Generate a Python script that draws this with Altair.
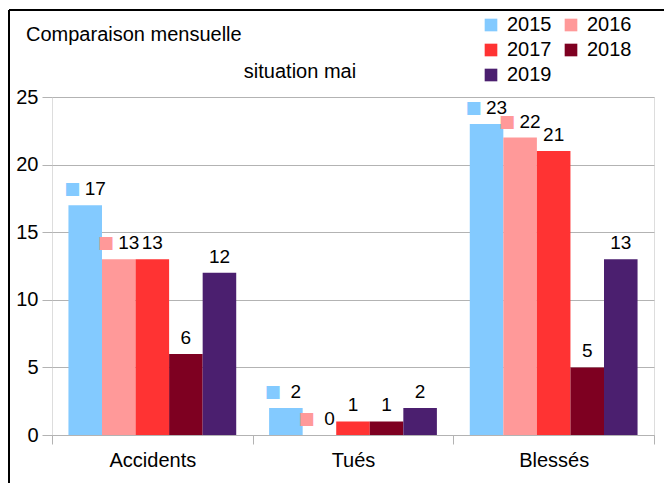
import altair as alt
import pandas as pd

categories = ["Accidents", "Tués", "Blessés"]
years = ["2015", "2016", "2017", "2018", "2019"]
v2015 = [17, 2, 23]
v2016 = [13, 0, 22]
v2017 = [13, 1, 21]
v2018 = [6, 1, 5]
v2019 = [12, 2, 13]
colors = ["#83CAFF", "#FF9999", "#FF3333", "#7E0021", "#4B1F6F"]

series = [v2015, v2016, v2017, v2018, v2019]
rows = []
for y, vals in zip(years, series):
    for c, v in zip(categories, vals):
        rows.append({"cat": c, "year": y, "value": v})
df = pd.DataFrame(rows)

# legend is filled column by column: order the colour domain so rows read 2015 2016 / 2017 2018 / 2019
legend_order = [0, 2, 4, 1, 3]
legend_years = [years[i] for i in legend_order]
legend_colors = [colors[i] for i in legend_order]

FONT = "Liberation Sans"

x_enc = alt.X("cat:N", sort=categories, title=None,
              scale=alt.Scale(paddingInner=0, paddingOuter=0),
              axis=alt.Axis(labelAngle=0, labelFontSize=20, labelFont=FONT, labelColor="#000000",
                            tickBand="extent", tickSize=9, tickColor="#b3b3b3", domainColor="#b3b3b3",
                            labelPadding=6, grid=False))
xo_enc = alt.XOffset("year:N", sort=years, scale=alt.Scale(paddingInner=0, paddingOuter=0.49))
y_enc = alt.Y("value:Q", title=None,
              scale=alt.Scale(domain=[0, 25], nice=False),
              axis=alt.Axis(values=[0, 5, 10, 15, 20, 25], labelFontSize=20, labelFont=FONT,
                            labelColor="#000000", tickSize=10, tickColor="#b3b3b3",
                            domain=False, gridColor="#b3b3b3", labelPadding=4))
color_enc = alt.Color("year:N",
                      scale=alt.Scale(domain=legend_years, range=legend_colors),
                      legend=alt.Legend(title=None, orient="none", legendX=429, legendY=-82,
                                        columns=2, symbolType="square", symbolSize=160,
                                        symbolStrokeWidth=0, labelFontSize=20, labelFont=FONT,
                                        labelColor="#000000", labelOffset=6, columnPadding=9,
                                        rowPadding=5))

base = alt.Chart(df)

bars = base.mark_bar(stroke=None).encode(x=x_enc, xOffset=xo_enc, y=y_enc, color=color_enc)

keyed = ["2015", "2016"]
labels_plain = base.transform_filter(
    alt.FieldOneOfPredicate(field="year", oneOf=["2017", "2018", "2019"])
).mark_text(font=FONT, fontSize=19, dy=-10, baseline="alphabetic", color="#000000").encode(
    x=alt.X("cat:N", sort=categories), xOffset=alt.XOffset("year:N", sort=years),
    y="value:Q", text="value:Q")

labels_keyed = base.transform_filter(
    alt.FieldOneOfPredicate(field="year", oneOf=keyed)
).mark_text(font=FONT, fontSize=19, dy=-10, dx=10, baseline="alphabetic", color="#000000").encode(
    x=alt.X("cat:N", sort=categories), xOffset=alt.XOffset("year:N", sort=years),
    y="value:Q", text="value:Q")

keys = base.transform_filter(
    alt.FieldOneOfPredicate(field="year", oneOf=keyed)
).mark_text(font="DejaVu Sans", fontSize=17, dy=-11, dx=-13, baseline="alphabetic", text="■").encode(
    x=alt.X("cat:N", sort=categories), xOffset=alt.XOffset("year:N", sort=years),
    y="value:Q", color=alt.Color("year:N", legend=None))

one = alt.Data(values=[{"a": 1}])
title1 = alt.Chart(one).mark_text(text="Comparaison mensuelle", font=FONT, fontSize=20,
                                  align="left", baseline="middle", color="#000000").encode(
    x=alt.value(-26), y=alt.value(-62))
title2 = alt.Chart(one).mark_text(text="situation mai", font=FONT, fontSize=20,
                                  align="center", baseline="middle", color="#000000").encode(
    x=alt.value(248), y=alt.value(-25))
border_left = alt.Chart(one).mark_rule(color="#000000", strokeWidth=2).encode(
    x=alt.value(-43), y=alt.value(-87), y2=alt.value(420))
border_top = alt.Chart(one).mark_rule(color="#000000", strokeWidth=2).encode(
    x=alt.value(-43), x2=alt.value(640), y=alt.value(-87))

chart = alt.layer(bars, labels_plain, labels_keyed, keys, title1, title2, border_left, border_top).properties(
    width=602, height=338, autosize="none",
    padding={"left": 44, "top": 89, "right": 10, "bottom": 48},
).configure_view(stroke="#b3b3b3", strokeWidth=1).configure(background="#ffffff")

chart.save("out.html", embed_options={"renderer": "svg", "actions": False})
